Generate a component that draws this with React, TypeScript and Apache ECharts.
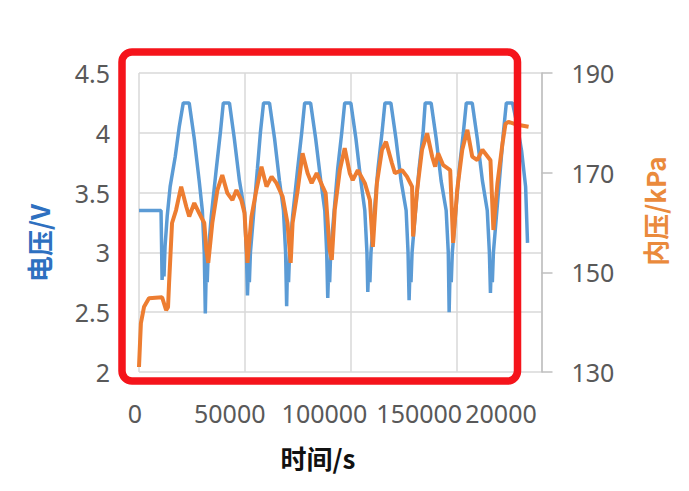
import React, { useEffect, useRef } from "react";
import * as echarts from "echarts";

// Voltage (电压/V) series
const voltageTime = [
  0, 10400, 10900, 11400, 11800, 12300, 13300, 14700, 17100, 19000,
  20900, 23700, 26100, 28400, 29900, 30800, 31300, 31800, 32200, 32700, 34100, 36500, 38400,
  39800, 42700, 45000, 47400, 49800, 50700, 51200, 51700, 52100, 52600, 54000, 55900, 57300,
  58800, 61600, 64000, 66300, 68200, 69200, 69700, 70100, 70600, 71100, 72500, 74900, 76800,
  78200, 81000, 83400, 85800, 87700, 88600, 89100, 89600, 90000, 90500, 91900, 93800, 95700,
  97100, 100000, 102400, 104700, 106600, 107600, 108000, 108500, 109000, 109500, 110900, 112800, 114700,
  116100, 118900, 121300, 123700, 126100, 127000, 127500, 128000, 128400, 128900, 130300, 132200, 134100,
  135100, 137900, 140300, 142600, 145000, 146000, 146400, 146900, 147400, 147900, 149300, 151200, 153100,
  154500, 157300, 159700, 162100, 164400, 165400, 165900, 166300, 166800, 167300, 168700, 170600, 172000,
  173400, 176300, 178700, 180600, 182500, 183400,
];
const voltageValue = [
  3.35, 3.35, 2.77, 2.95, 2.8, 3.05, 3.3, 3.55, 3.8, 4.05,
  4.25, 4.25, 3.95, 3.6, 3.35, 3.0, 2.49, 2.9, 2.75, 3.0, 3.3, 3.7, 4.0,
  4.25, 4.25, 3.95, 3.6, 3.35, 3.0, 2.64, 2.9, 2.75, 3.0, 3.3, 3.7, 4.0,
  4.25, 4.25, 3.95, 3.6, 3.35, 3.0, 2.55, 2.9, 2.75, 3.0, 3.3, 3.7, 4.0,
  4.25, 4.25, 3.95, 3.6, 3.35, 3.0, 2.62, 2.9, 2.75, 3.0, 3.3, 3.7, 4.0,
  4.25, 4.25, 3.95, 3.6, 3.35, 3.0, 2.67, 2.9, 2.75, 3.0, 3.3, 3.7, 4.0,
  4.25, 4.25, 3.95, 3.6, 3.35, 3.0, 2.6, 2.9, 2.75, 3.0, 3.3, 3.7, 4.0,
  4.25, 4.25, 3.95, 3.6, 3.35, 3.0, 2.5, 2.9, 2.75, 3.0, 3.3, 3.7, 4.0,
  4.25, 4.25, 3.95, 3.6, 3.35, 3.0, 2.66, 2.9, 2.75, 3.0, 3.3, 3.7, 4.0,
  4.25, 4.25, 4.05, 3.85, 3.55, 3.08,
];

// Internal pressure (内压/kPa) series
const pressureTime = [
  0, 500, 900, 2400, 4700, 10900, 12800, 13700, 14200, 15600, 17500, 19900, 22300, 23700, 26100,
  28400, 30800, 31800, 32700, 34600, 37000, 39300, 41700, 44100, 46000, 48300, 49800, 51200,
  53100, 55400, 57800, 60200, 62600, 64900, 67800, 70100, 71600, 72500, 74900, 77200, 79600,
  81500, 83900, 86700, 88100, 90000, 91000, 92400, 94800, 97100, 99500, 100900, 103300, 106600,
  109000, 110400, 112300, 114700, 116600, 119400, 120800, 124200, 126500, 128900, 129400, 131300,
  133600, 136000, 138400, 139800, 141200, 143600, 146900, 148300, 150200, 152600, 155000, 157300,
  159700, 162100, 165900, 167300, 169200, 171600, 173000, 174400, 178700, 183900,
];
const pressureValue = [
  131, 136, 139.8, 143.1, 144.8, 145, 142.4, 143, 147.9, 159.9, 162.5, 167.2, 163.2, 161.2, 163.9,
  161.9, 159.9, 154.5, 151.9, 159.9, 166.5, 169.5, 165.9, 164.5, 166.5, 164.5, 161.9, 151.9,
  161.2, 166.5, 171.2, 167.2, 169.2, 167.9, 165.2, 159.9, 151.9, 159.9, 166.5, 173.9, 169.9,
  167.9, 169.9, 167.2, 165.9, 154.5, 152.5, 162.5, 170.5, 174.9, 169.9, 168.5, 170.5, 167.9,
  164.5, 155.1, 167.9, 174.6, 176.2, 171.9, 169.9, 170.5, 169.2, 167.2, 157.2, 166.5,
  174.6, 177.9, 173.2, 171.2, 173.9, 171.5, 170.5, 155.9, 166.5, 174.6, 178.6, 173.2,
  172.5, 174.6, 172.5, 158.5, 167.9, 175.9, 179.8, 180.2, 179.6, 179.2,
];

const xTickLabels = ["0", "50000", "100000", "150000", "20000"];

const LABEL_FONT = "'Noto Sans', 'Open Sans', sans-serif";
const CJK_FONT = "'Noto Sans CJK SC', 'Noto Sans', sans-serif";
const LABEL_COLOR = "#595959";

export default function App() {
  const ref = useRef<HTMLDivElement>(null);

  useEffect(() => {
    if (!ref.current) return;
    const chart = echarts.init(ref.current, null, { renderer: "svg" });
    const vData = voltageTime.map((t, i) => [t, voltageValue[i]]);
    const pData = pressureTime.map((t, i) => [t, pressureValue[i]]);
    const labelTicks = [0, 50000, 100000, 150000, 200000];

    chart.setOption({
      animation: false,
      backgroundColor: "#ffffff",
      grid: [
        { left: 139, top: 73, width: 402.5, height: 299, outerBoundsMode: "none" },
        { left: 135, top: 73, width: 379, height: 299, outerBoundsMode: "none" },
      ],
      xAxis: [
        {
          type: "value",
          gridIndex: 0,
          min: 0,
          max: 190000,
          interval: 50000,
          axisLine: { show: false },
          axisTick: { show: false },
          axisLabel: { show: false },
          splitLine: { show: true, lineStyle: { color: "#d9d9d9", width: 1.5 } },
        },
        {
          type: "value",
          gridIndex: 1,
          min: 0,
          max: 200000,
          interval: 50000,
          axisLine: { show: false },
          axisTick: { show: false },
          splitLine: { show: false },
          axisLabel: {
            show: true,
            margin: 28,
            fontSize: 25,
            fontFamily: LABEL_FONT,
            color: LABEL_COLOR,
            formatter: (v: number) => {
              const i = labelTicks.indexOf(v);
              if (i < 0) return "";
              return i === 4 ? "{a|" + xTickLabels[i] + "}" : xTickLabels[i];
            },
            rich: {
              a: {
                fontSize: 25,
                fontFamily: LABEL_FONT,
                color: LABEL_COLOR,
                padding: [0, 26, 0, 0],
              },
            },
          },
        },
      ],
      yAxis: [
        {
          type: "value",
          gridIndex: 0,
          position: "left",
          min: 2,
          max: 4.5,
          interval: 0.5,
          axisLine: { show: false },
          axisTick: { show: false },
          axisLabel: {
            margin: 29,
            fontSize: 25,
            fontFamily: LABEL_FONT,
            color: LABEL_COLOR,
          },
          splitLine: { show: true, lineStyle: { color: "#d9d9d9", width: 1.5 } },
        },
        {
          type: "value",
          gridIndex: 0,
          position: "right",
          min: 130,
          max: 190,
          interval: 20,
          axisLine: { show: true, lineStyle: { color: "#bfbfbf", width: 1.5 } },
          axisTick: { show: true, length: 11, lineStyle: { color: "#bfbfbf", width: 1.5 } },
          axisLabel: {
            margin: 30,
            fontSize: 25,
            fontFamily: LABEL_FONT,
            color: LABEL_COLOR,
          },
          splitLine: { show: false },
        },
        {
          type: "value",
          gridIndex: 1,
          show: false,
          min: 0,
          max: 1,
        },
      ],
      series: [
        {
          name: "电压",
          type: "line",
          xAxisIndex: 0,
          yAxisIndex: 0,
          data: vData,
          showSymbol: false,
          symbol: "none",
          lineStyle: { color: "#5b9bd5", width: 3.5 },
          itemStyle: { color: "#5b9bd5" },
        },
        {
          name: "内压",
          type: "line",
          xAxisIndex: 0,
          yAxisIndex: 1,
          data: pData,
          showSymbol: false,
          symbol: "none",
          lineStyle: { color: "#ed7d31", width: 4 },
          itemStyle: { color: "#ed7d31" },
        },
      ],
      graphic: [
        {
          type: "rect",
          z: 100,
          shape: { x: 122, y: 52, width: 395.5, height: 329, r: 10 },
          style: { fill: "none", stroke: "#f5141b", lineWidth: 7.5 },
        },
        {
          type: "text",
          x: 38,
          y: 243,
          rotation: Math.PI / 2,
          style: {
            text: "电压/V",
            fill: "#2e70c0",
            font: "bold 26px " + CJK_FONT,
            textAlign: "center",
            textVerticalAlign: "middle",
          },
        },
        {
          type: "text",
          x: 654,
          y: 211,
          rotation: Math.PI / 2,
          style: {
            text: "内压/kPa",
            fill: "#ea8a3c",
            font: "bold 26px " + CJK_FONT,
            textAlign: "center",
            textVerticalAlign: "middle",
          },
        },
        {
          type: "text",
          x: 318,
          y: 457,
          style: {
            text: "时间/s",
            fill: "#111111",
            font: "bold 26px " + CJK_FONT,
            textAlign: "center",
            textVerticalAlign: "middle",
          },
        },
      ],
    });

    return () => chart.dispose();
  }, []);

  return (
    <div
      ref={ref}
      style={{ position: "fixed", left: 0, top: 0, width: 689, height: 491, background: "#fff" }}
    />
  );
}
